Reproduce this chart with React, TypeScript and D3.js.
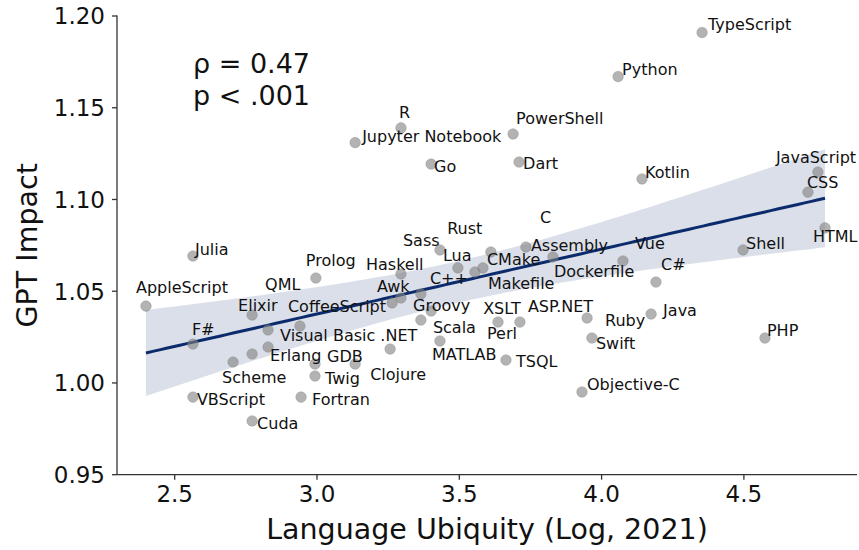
import React from 'react';
import * as d3 from 'd3';

// Languages
const languages = [
  'TypeScript', 'Python', 'R', 'Jupyter Notebook', 'PowerShell', 'Go', 'Dart', 'Kotlin',
  'JavaScript', 'CSS', 'HTML', 'Shell', 'Vue', 'C#', 'Java', 'Ruby', 'Swift', 'Objective-C',
  'PHP', 'TSQL', 'ASP.NET', 'Perl', 'Assembly', 'Dockerfile', 'Sass', 'C', 'Lua', 'CMake',
  'Makefile', 'Haskell', 'C++', 'Awk', 'Rust', 'Groovy', 'Scala', 'MATLAB', 'XSLT',
  'Julia', 'AppleScript', 'Prolog', 'QML', 'Elixir', 'CoffeeScript', 'F#', 'Visual Basic .NET',
  'Erlang', 'GDB', 'Scheme', 'Twig', 'Clojure', 'VBScript', 'Fortran', 'Cuda',
];

// Language ubiquity (log, 2021)
const ubiquity = [
  4.353, 4.058, 3.295, 3.134, 3.689, 3.401, 3.710, 4.142,
  4.760, 4.725, 4.785, 4.497, 4.075, 4.191, 4.174, 3.949, 3.966, 3.931,
  4.574, 3.664, 3.713, 3.636, 3.734, 3.829, 3.432, 3.611, 3.495, 3.583,
  3.555, 3.295, 3.365, 3.295, 3.264, 3.401, 3.365, 3.432, 3.257,
  2.564, 2.399, 2.996, 2.772, 2.772, 2.940, 2.564, 2.828,
  2.828, 2.993, 2.705, 2.993, 3.134, 2.564, 2.944, 2.772,
];

// GPT impact
const impact = [
  1.191, 1.167, 1.139, 1.131, 1.1357, 1.1193, 1.1204, 1.1112,
  1.115, 1.104, 1.0845, 1.0725, 1.0665, 1.055, 1.0376, 1.0354, 1.0245, 0.9951,
  1.0245, 1.0125, 1.0332, 1.0332, 1.0741, 1.0687, 1.0725, 1.0714, 1.0627, 1.0627,
  1.0605, 1.0594, 1.0485, 1.0463, 1.0436, 1.0392, 1.0343, 1.0229, 1.0185,
  1.0692, 1.0419, 1.0572, 1.0158, 1.037, 1.031, 1.0212, 1.0289,
  1.0196, 1.0103, 1.0114, 1.0038, 1.0103, 0.9923, 0.9923, 0.9793,
];

const yTicks = [0.95, 1.0, 1.05, 1.1, 1.15, 1.2];
const xTicks = [2.5, 3.0, 3.5, 4.0, 4.5];
const statLines = ['ρ = 0.47', 'p < .001'];

// label placement (px offset of text's left edge / vertical centre from the point)
const labelOffsets: Record<string, [number, number]> = {
  'TypeScript': [6, -8], 'Python': [4, -7], 'R': [-2, -16], 'Jupyter Notebook': [7, -6],
  'PowerShell': [3, -16], 'Go': [3, 2], 'Dart': [4, 1], 'Kotlin': [3, -7],
  'JavaScript': [-42, -15], 'CSS': [-1, -10], 'HTML': [-12, 8], 'Shell': [3, -7],
  'Vue': [12, -18], 'C#': [5, -18], 'Java': [12, -4], 'Ruby': [18, 2], 'Swift': [4, 5],
  'Objective-C': [5, -8], 'PHP': [2, -8], 'TSQL': [10, 1], 'ASP.NET': [8, -16],
  'Perl': [-11, 11], 'Assembly': [5, -2], 'Dockerfile': [1, 14], 'Sass': [-37, -10],
  'C': [49, -35], 'Lua': [-15, -13], 'CMake': [4, -9], 'Makefile': [13, 11],
  'Haskell': [-35, -10], 'C++': [9, -16], 'Awk': [-24, -12], 'Rust': [55, -75],
  'Groovy': [-18, -6], 'Scala': [12, 7], 'MATLAB': [-8, 13], 'XSLT': [93, -41],
  'Julia': [2, -7], 'AppleScript': [-10, -19], 'Prolog': [-10, -18], 'QML': [13, -70],
  'Elixir': [-14, -10], 'CoffeeScript': [-12, -20], 'F#': [-1, -15],
  'Visual Basic .NET': [12, 5], 'Erlang': [2, 8], 'GDB': [12, -8], 'Scheme': [-11, 15],
  'Twig': [10, 2], 'Clojure': [15, 10], 'VBScript': [4, 2], 'Fortran': [11, 2], 'Cuda': [5, 2],
};

const W = 859;
const H = 550;
const FONT = '"DejaVu Sans", sans-serif';
const NAVY = '#0b2b6c';

export default function App() {
  const x = d3.scaleLinear().domain([2.5, 4.5]).range([174.7, 743.9]);
  const y = d3.scaleLinear().domain([0.95, 1.2]).range([474.7, 16]);
  const [left, right] = [117, 857];
  const bottom = y(0.95);

  // OLS fit with a 95% confidence band for the mean
  const n = ubiquity.length;
  const mx = d3.mean(ubiquity)!;
  const my = d3.mean(impact)!;
  const sxx = d3.sum(ubiquity, (v) => (v - mx) ** 2);
  const sxy = d3.sum(ubiquity.map((v, i) => (v - mx) * (impact[i] - my)));
  const slope = sxy / sxx;
  const icpt = my - slope * mx;
  const rss = d3.sum(ubiquity.map((v, i) => (impact[i] - (icpt + slope * v)) ** 2));
  const se = Math.sqrt(rss / (n - 2));
  const t = 2.008;
  const [x0, x1] = d3.extent(ubiquity) as [number, number];
  const grid = d3.range(0, 101).map((i) => x0 + ((x1 - x0) * i) / 100);
  const band = grid.map((v) => {
    const fit = icpt + slope * v;
    const h = t * se * Math.sqrt(1 / n + (v - mx) ** 2 / sxx);
    return { v, fit, lo: fit - h, hi: fit + h };
  });
  const area = d3.area<typeof band[0]>()
    .x((d) => x(d.v))
    .y0((d) => y(d.lo))
    .y1((d) => y(d.hi));
  const line = d3.line<typeof band[0]>()
    .x((d) => x(d.v))
    .y((d) => y(d.fit));

  return (
    <svg width={W} height={H} style={{ position: 'absolute', left: 0, top: 0, background: '#fff' }} fontFamily={FONT}>
      <path d={area(band) ?? ''} fill={NAVY} fillOpacity={0.15} />
      <path d={line(band) ?? ''} fill="none" stroke={NAVY} strokeWidth={3} />

      {languages.map((name, i) => (
        <circle key={name} cx={x(ubiquity[i])} cy={y(impact[i])} r={5.3}
          fill="#808080" fillOpacity={0.6} stroke="#808080" strokeOpacity={0.35} strokeWidth={1} />
      ))}

      {languages.map((name, i) => {
        const [dx, dy] = labelOffsets[name] ?? [4, -6];
        return (
          <text key={name} x={x(ubiquity[i]) + dx} y={y(impact[i]) + dy} dy="0.36em"
            fontSize={16} fill="#111">{name}</text>
        );
      })}

      {/* spines */}
      <line x1={left} x2={left} y1={y(1.2) - 0.5} y2={bottom} stroke="#333" strokeWidth={1.3} />
      <line x1={left} x2={right} y1={bottom} y2={bottom} stroke="#333" strokeWidth={1.3} />

      {yTicks.map((v) => (
        <g key={v} transform={`translate(0,${y(v)})`}>
          <line x1={left - 5} x2={left} stroke="#333" strokeWidth={1.3} />
          <text x={left - 12} dy="0.36em" textAnchor="end" fontSize={23} fill="#111">{d3.format('.2f')(v)}</text>
        </g>
      ))}
      {xTicks.map((v) => (
        <g key={v} transform={`translate(${x(v)},0)`}>
          <line y1={bottom} y2={bottom + 5} stroke="#333" strokeWidth={1.3} />
          <text y={502} textAnchor="middle" fontSize={23} fill="#111">{d3.format('.1f')(v)}</text>
        </g>
      ))}

      <text x={(left + right) / 2} y={539} textAnchor="middle" fontSize={28.5} fill="#111">
        Language Ubiquity (Log, 2021)
      </text>
      <text transform={`translate(37,${(y(1.2) + bottom) / 2}) rotate(-90)`} textAnchor="middle"
        fontSize={28.5} fill="#111">GPT Impact</text>

      {statLines.map((s, i) => (
        <text key={s} x={193} y={73 + i * 32} fontSize={27} fill="#111">{s}</text>
      ))}
    </svg>
  );
}
